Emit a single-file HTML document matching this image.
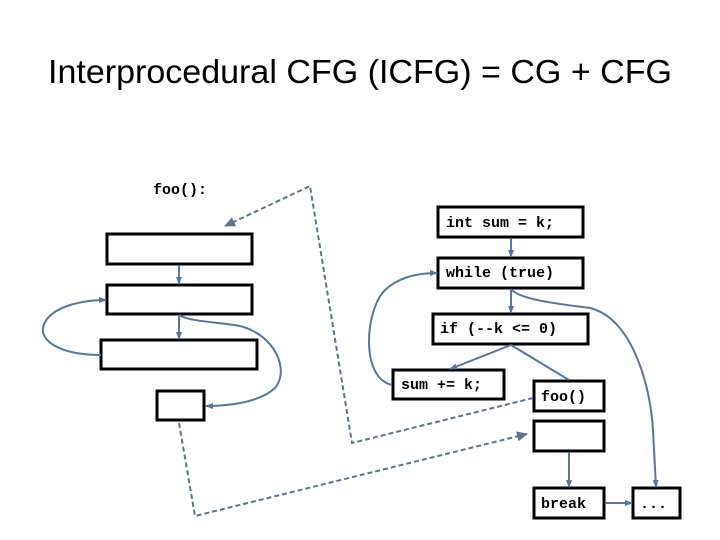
<!DOCTYPE html>
<html><head><meta charset="utf-8"><style>
html,body{margin:0;padding:0;background:#fff;width:720px;height:540px;overflow:hidden}
svg{display:block}
.b{fill:#fff;stroke:#000;stroke-width:3}
.c{fill:none;stroke:#5677a3;stroke-width:2}
.d{fill:none;stroke:#5a7596;stroke-width:2;stroke-dasharray:5,3}
.t{font-family:"Liberation Mono",monospace;font-weight:bold;font-size:15px;fill:#000}
</style></head><body>
<svg width="720" height="540" viewBox="0 0 720 540">
<defs>
<marker id="a" markerWidth="8" markerHeight="8" refX="7" refY="4" orient="auto" markerUnits="userSpaceOnUse"><path d="M0,1 L8,4 L0,7z" fill="#5677a3"/></marker>
<marker id="ad" markerWidth="12" markerHeight="10" refX="10" refY="5" orient="auto" markerUnits="userSpaceOnUse"><path d="M0,0 L11,5 L0,10z" fill="#5a7596"/></marker>
</defs>
<text x="360" y="83" text-anchor="middle" font-family="Liberation Sans,sans-serif" font-size="33" textLength="624" lengthAdjust="spacingAndGlyphs" fill="#000">Interprocedural CFG (ICFG) = CG + CFG</text>
<text class="t" x="153" y="194">foo():</text>

<!-- left boxes -->
<rect class="b" x="107" y="234" width="145" height="30"/>
<rect class="b" x="107" y="285" width="145" height="29"/>
<rect class="b" x="101" y="340" width="156" height="29"/>
<rect class="b" x="157" y="391" width="47" height="29"/>
<path class="c" d="M179,265 L179,284" marker-end="url(#a)"/>
<path class="c" d="M179,315 L179,339" marker-end="url(#a)"/>
<path class="c" d="M101,355 C60,355 35,340 45,322 C55,305 85,300 106,300" marker-end="url(#a)"/>
<path class="c" d="M179,315 C190,322 220,322 240,326 C275,335 290,370 275,388 C260,402 230,406 206,406" marker-end="url(#a)"/>

<!-- right boxes -->
<rect class="b" x="438" y="207" width="145" height="30"/>
<rect class="b" x="438" y="258" width="145" height="30"/>
<rect class="b" x="433" y="314" width="155" height="30"/>
<rect class="b" x="393" y="370" width="111" height="29"/>
<rect class="b" x="534" y="381" width="70" height="30"/>
<rect class="b" x="534" y="421" width="70" height="30"/>
<rect class="b" x="534" y="488" width="70" height="30"/>
<rect class="b" x="633" y="488" width="47" height="30"/>
<text class="t" x="446" y="227">int sum = k;</text>
<text class="t" x="446" y="277">while (true)</text>
<text class="t" x="440" y="333">if (--k &lt;= 0)</text>
<text class="t" x="401" y="389">sum += k;</text>
<text class="t" x="541" y="401">foo()</text>
<text class="t" x="541" y="508">break</text>
<text class="t" x="640" y="508">...</text>

<path class="c" d="M511,238 L511,257" marker-end="url(#a)"/>
<path class="c" d="M511,289 L511,313" marker-end="url(#a)"/>
<path class="c" d="M511,345 L450,369" marker-end="url(#a)"/>
<path class="c" d="M511,345 L569,380"/>
<path class="c" d="M569,452 L569,487" marker-end="url(#a)"/>
<path class="c" d="M605,503 L632,503" marker-end="url(#a)"/>
<path class="c" d="M392,385 C360,378 365,310 385,290 C400,276 420,273 437,273" marker-end="url(#a)"/>
<path class="c" d="M511,289 C520,300 560,304 590,308 C630,318 650,380 653,430 L656,487" marker-end="url(#a)"/>

<!-- dashed call/return -->
<path class="d" d="M533,398 L352,443 L310,186 L225,226" marker-end="url(#ad)"/>
<path class="d" d="M179,423 L195,516 L527,434" marker-end="url(#ad)"/>
</svg>
</body></html>
